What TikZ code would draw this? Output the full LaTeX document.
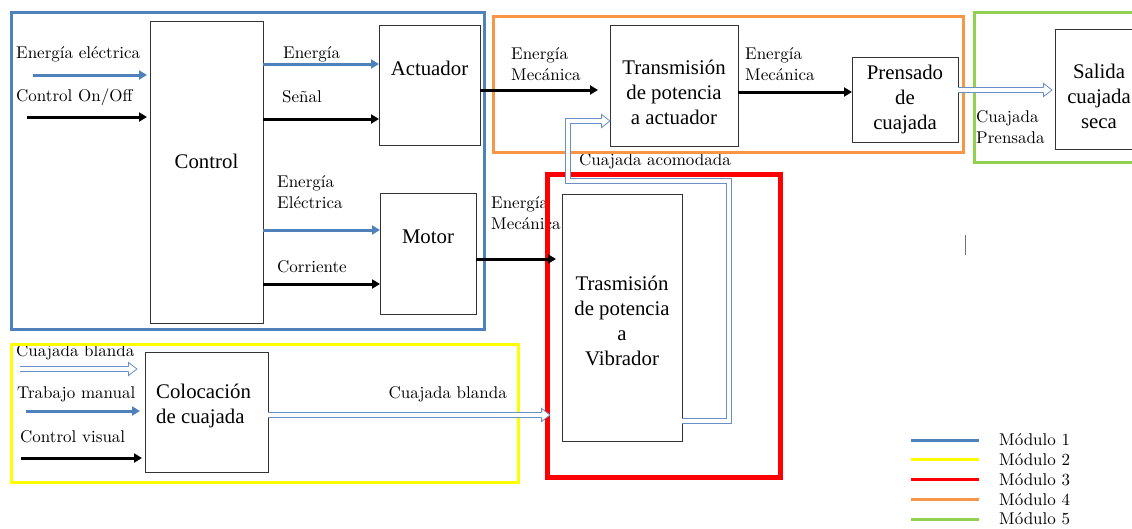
\documentclass[tikz,border=0pt]{standalone}
\usepackage{fontspec}
\usetikzlibrary{calc}
\usetikzlibrary{arrows.meta}
\newfontfamily\boxfont{Liberation Serif}
\newfontfamily\lblfont{lmroman10-regular.otf}
\definecolor{modblue}{HTML}{4F81BD}
\definecolor{modyellow}{HTML}{FFFF00}
\definecolor{modred}{HTML}{FF0000}
\definecolor{modorange}{HTML}{F79646}
\definecolor{modgreen}{HTML}{92D050}
\definecolor{pipeblue}{HTML}{6A8FC8}

\tikzset{
  modframe/.style={draw=#1, line width=3pt},
  blockbox/.style={draw=black!80, line width=0.8pt, fill=white, inner sep=0pt, outer sep=0pt},
  boxtext/.style={font=\boxfont\fontsize{20.8}{25}\selectfont, align=center, inner sep=0pt},
  lbl/.style={font=\lblfont\fontsize{17}{21}\selectfont, align=left, anchor=west, inner sep=0pt},
  bluearrow/.style={draw=modblue, line width=3pt, -{Triangle[length=8pt,width=9pt]}},
  blackarrow/.style={draw=black, line width=3pt, -{Triangle[length=8pt,width=9pt]}},
  hollow/.style={draw=pipeblue, line width=0.8pt, double=white, double distance=4.5pt, shorten >=8pt},
  hollowhead/.pic={\filldraw[draw=pipeblue, fill=white, line width=0.8pt]
    (-8.4,-2.65) -- (-8.4,-6.5) -- (0,0) -- (-8.4,6.5) -- (-8.4,2.65);}
}

\begin{document}
\begin{tikzpicture}[x=1pt, y=-1pt]
    \useasboundingbox (0,0) rectangle (1132,528);

    % labels
    \node[lbl] (lEnElec) at (16,54) {Energía eléctrica};
    \node[lbl] (lOnOff) at (16,97) {Control On/Off};
    \node[lbl] (lEnergia) at (283,54) {Energía};
    \node[lbl] (lSenal) at (282,97) {Señal};
    \node[lbl] (lEnElec2) at (277,192.5) {Energía\\Eléctrica};
    \node[lbl] (lCorriente) at (277,267) {Corriente};
    \node[lbl] (lEnMec1) at (511,64.5) {Energía\\Mecánica};
    \node[lbl] (lEnMec2) at (745,64.5) {Energía\\Mecánica};
    \node[lbl] (lEnMec3) at (491,213.5) {Energía\\Mecánica};
    \node[lbl] (lAcomodada) at (579,161) {Cuajada acomodada};
    \node[lbl] (lPrensada) at (976,127.5) {Cuajada\\Prensada};
    \node[lbl] (lBlanda1) at (16,352) {Cuajada blanda};
    \node[lbl] (lManual) at (17,394) {Trabajo manual};
    \node[lbl] (lVisual) at (20,437) {Control visual};
    \node[lbl, anchor=east] (lBlanda2) at (507,394) {Cuajada blanda};

    % modulos
    \draw[modframe=modblue] (11,12) rectangle (484,329);
    \draw[modframe=modorange] (493,16) rectangle (963,152);
    \draw[modframe=modgreen] (974,12) rectangle (1145,162);
    \draw[modframe=modred, line width=5pt] (547,174) rectangle (780,477);
    \draw[modframe=modyellow] (11,344) rectangle (518,482);

    % bloques
    \node[blockbox, minimum width=113, minimum height=302] (control) at (206.5,172) {};
    \node[boxtext] (controlT) at ([yshift=11pt]control.center) {Control};
    \node[blockbox, minimum width=101, minimum height=120] (actuador) at (429.5,85) {};
    \node[boxtext] (actuadorT) at ([yshift=17pt]actuador.center) {Actuador};
    \node[blockbox, minimum width=96, minimum height=121] (motor) at (428,253.5) {};
    \node[boxtext] (motorT) at ([yshift=16.5pt]motor.center) {Motor};
    \node[blockbox, minimum width=128, minimum height=121] (transmision) at (674,85.5) {};
    \node[boxtext] (transmisionT) at ([yshift=-6.5pt]transmision.center) {Transmisión\\de potencia\\a actuador};
    \node[blockbox, minimum width=106, minimum height=85] (prensado) at (905,99.5) {};
    \node[boxtext] (prensadoT) at (prensado.center) {Prensado\\de\\cuajada};
    \node[blockbox, minimum width=88, minimum height=120] (salida) at (1099,89) {};
    \node[boxtext] (salidaT) at ([yshift=-7pt]salida.center) {Salida\\cuajada\\seca};
    \node[blockbox, minimum width=120, minimum height=247] (vibrador) at (622,317.5) {};
    \node[boxtext] (vibradorT) at ([yshift=-3.5pt]vibrador.center) {Trasmisión\\de potencia\\a\\Vibrador};
    \node[blockbox, minimum width=123, minimum height=120] (colocacion) at (206.5,412) {};
    \node[boxtext, align=left, anchor=west] (colocacionT) at (156,406) {Colocación\\de cuajada};

    % entradas
    \coordinate (inEnElec) at (33,75);
    \coordinate (inOnOff) at (27,117);
    \coordinate (inManual) at (26,411);
    \coordinate (inVisual) at (21,458);
    \coordinate (inBlanda) at (20,369);
    \draw[bluearrow] (inEnElec) -- ([xshift=-3pt]inEnElec -| control.west);
    \draw[blackarrow] (inOnOff) -- ([xshift=-3pt]inOnOff -| control.west);
    \draw[bluearrow] (inManual) -- ([xshift=-5pt]inManual -| colocacion.west);
    \draw[blackarrow] (inVisual) -- ([xshift=-3pt]inVisual -| colocacion.west);

    % control -> actuador / motor
    \draw[bluearrow] ([yshift=21pt]actuador.west -| control.east) -- ([yshift=21pt]actuador.west);
    \draw[blackarrow] ([yshift=-34pt]actuador.west -| control.east) -- ([yshift=-34pt]actuador.west);
    \draw[bluearrow] ([yshift=23.5pt]motor.west -| control.east) -- ([yshift=23.5pt]motor.west);
    \draw[blackarrow] ([yshift=-30.5pt]motor.west -| control.east) -- ([yshift=-30.5pt]motor.west);

    % energia mecanica
    \draw[blackarrow, shorten >=12pt] ([yshift=-5pt]actuador.east) -- ([yshift=-5pt]actuador.east -| transmision.west);
    \draw[blackarrow] ([yshift=-6.5pt]transmision.east) -- ([yshift=-6.5pt]transmision.east -| prensado.west);
    \draw[blackarrow, shorten >=6pt] ([yshift=-5.5pt]motor.east) -- ([yshift=-5.5pt]motor.east -| vibrador.west);

    % cuajada
    \coordinate (tipBlanda) at ([xshift=-8pt]inBlanda -| colocacion.west);
    \draw[hollow] (inBlanda) -- (tipBlanda);
    \pic at (tipBlanda) {hollowhead};

    \coordinate (tipVibrador) at ([xshift=-12pt,yshift=-3pt]colocacion.east -| vibrador.west);
    \draw[hollow] ([yshift=-3pt]colocacion.east) -- (tipVibrador);
    \pic at (tipVibrador) {hollowhead};

    \coordinate (bendR) at (729,181);
    \coordinate (bendL) at (568,121);
    \coordinate (tipTransmision) at ([yshift=-35.5pt]transmision.west);
    \draw[hollow] ([yshift=-103.5pt]vibrador.east) -| (bendR) -| (bendL) -- (tipTransmision);
    \pic at (tipTransmision) {hollowhead};

    \coordinate (tipSalida) at ([xshift=-3pt,yshift=9.5pt]prensado.east -| salida.west);
    \draw[hollow] ([yshift=9.5pt]prensado.east) -- (tipSalida);
    \pic at (tipSalida) {hollowhead};

    \draw[black!55, line width=1pt] (965,235) -- (965,255);

    % leyenda
    \foreach \col [count=\i] in {modblue,modyellow,modred,modorange,modgreen} {
      \node[lbl] (leg\i) at (999,{420.25+19.75*\i}) {Módulo \i};
      \draw[draw=\col, line width=3pt] ([xshift=-88pt]leg\i.west) -- ([xshift=-20pt]leg\i.west);
    }
\end{tikzpicture}
\end{document}
